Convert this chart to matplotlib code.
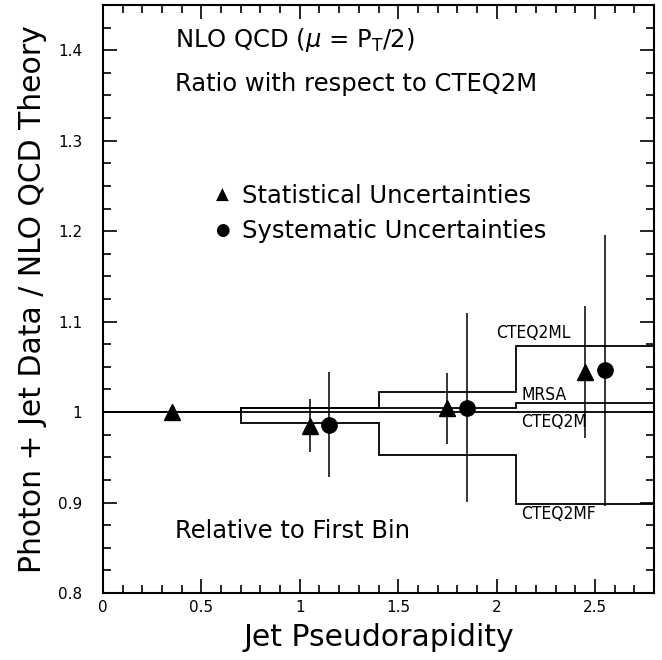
import matplotlib
matplotlib.use('Agg')
import matplotlib.pyplot as plt
from matplotlib.ticker import MultipleLocator

# bin edges in jet pseudorapidity
edges = [0.0, 0.7, 1.4, 2.1, 2.8]

# theory ratios to CTEQ2M, first bin normalised to 1
cteq2m = [1.0, 1.0, 1.0, 1.0]
cteq2ml = [1.0, 1.005, 1.022, 1.073]
mrsa = [1.0, 1.004, 1.005, 1.010]
cteq2mf = [1.0, 0.988, 0.953, 0.898]

# data points
stat_x = [0.35, 1.05, 1.75, 2.45]
stat_y = [1.0, 0.985, 1.004, 1.044]
stat_err = [0.0, 0.029, 0.039, 0.073]

syst_x = [1.15, 1.85, 2.55]
syst_y = [0.986, 1.005, 1.046]
syst_err = [0.058, 0.104, 0.150]

fig = plt.figure(figsize=(6.62, 6.60), dpi=100)
ax = fig.add_axes([0.1556, 0.1015, 0.8324, 0.8909])

for vals in (cteq2ml, mrsa, cteq2mf):
    ax.stairs(vals, edges, color='black', lw=1.3)
ax.axhline(cteq2m[0], color='black', lw=1.3)

ax.errorbar(stat_x, stat_y, yerr=stat_err, fmt='^', color='black',
            ms=11, elinewidth=1.1, capsize=0)
ax.errorbar(syst_x, syst_y, yerr=syst_err, fmt='o', color='black',
            ms=11, elinewidth=1.1, capsize=0)

# curve labels
lab_font = dict(fontsize=12.5, family='DejaVu Sans', stretch='condensed')
ax.text(2.0, 1.087, 'CTEQ2ML', va='center', **lab_font)
ax.text(2.125, 1.019, 'MRSA', va='center', **lab_font)
ax.text(2.125, 0.989, 'CTEQ2M', va='center', **lab_font)
ax.text(2.125, 0.887, 'CTEQ2MF', va='center', **lab_font)

big = 17.5
ax.text(0.365, 1.411, r'NLO QCD ($\mu$ = P$_{\rm T}$/2)', fontsize=big, va='center')
ax.text(0.365, 1.363, 'Ratio with respect to CTEQ2M', fontsize=big, va='center')
ax.text(0.604, 1.240, '\u25b2', fontsize=12, ha='center', va='center')
ax.text(0.706, 1.239, 'Statistical Uncertainties', fontsize=big, va='center')
ax.text(0.604, 1.201, '\u25cf', fontsize=12, ha='center', va='center')
ax.text(0.706, 1.200, 'Systematic Uncertainties', fontsize=big, va='center')
ax.text(0.365, 0.869, 'Relative to First Bin', fontsize=big, va='center')

ax.set_xlim(0, 2.8)
ax.set_ylim(0.8, 1.45)
ax.xaxis.set_minor_locator(MultipleLocator(0.1))
ax.yaxis.set_minor_locator(MultipleLocator(0.025))
ax.set_xticks([0, 0.5, 1, 1.5, 2, 2.5], ['0', '0.5', '1', '1.5', '2', '2.5'])
ax.set_yticks([0.8, 0.9, 1.0, 1.1, 1.2, 1.3, 1.4], ['0.8', '0.9', '1', '1.1', '1.2', '1.3', '1.4'])
ax.tick_params(which='both', direction='in', top=True, right=True, width=1.2, labelsize=11)
ax.tick_params(which='major', length=10)
ax.tick_params(which='minor', length=6)
ax.tick_params(axis='x', which='major', pad=5)
ax.tick_params(axis='y', which='major', pad=15)
for s in ax.spines.values():
    s.set_linewidth(1.5)

ax.set_xlabel('Jet Pseudorapidity', fontsize=21.5, labelpad=6)
ax.set_ylabel('Photon + Jet Data / NLO QCD Theory', fontsize=21.5, labelpad=8)

fig.savefig('out.png', dpi=100)
